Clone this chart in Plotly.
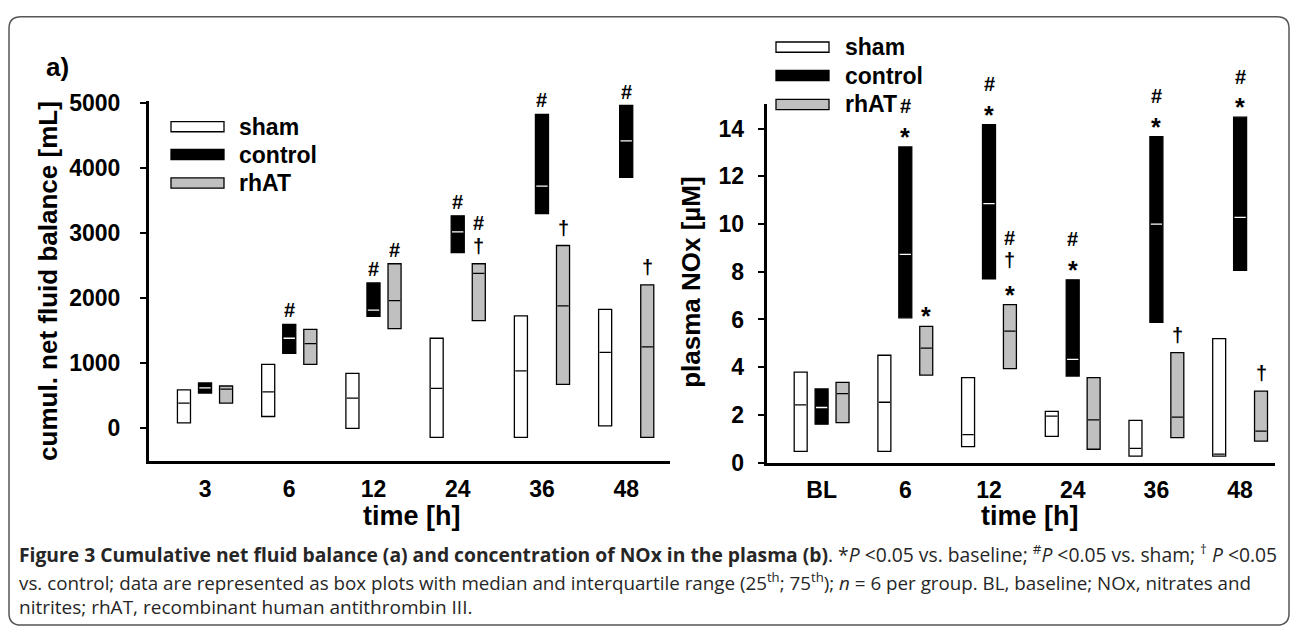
import plotly.graph_objects as go

W, H = 1293, 640

# ---------------- data ----------------
groups = ["sham", "control", "rhAT"]

# panel a: cumulative net fluid balance [mL]
cats_a = ["3", "6", "12", "24", "36", "48"]
sham_a_q1 = [84, 183, 0, -138, -138, 39]
sham_a_med = [390, 563, 467, 615, 885, 1170]
sham_a_q3 = [593, 983, 846, 1386, 1730, 1829]
ctrl_a_q1 = [543, 1155, 1721, 2704, 3304, 3859]
ctrl_a_med = [622, 1386, 1819, 3023, 3726, 4420]
ctrl_a_q3 = [700, 1598, 2237, 3269, 4827, 4965]
rhat_a_q1 = [390, 983, 1534, 1657, 678, -138]
rhat_a_med = [603, 1303, 1966, 2384, 1883, 1254]
rhat_a_q3 = [652, 1524, 2532, 2532, 2812, 2207]
ticks_a = [0, 1000, 2000, 3000, 4000, 5000]
# significance marks, listed top to bottom
sig_a_ctrl = ["", "#", "#", "#", "#", "#"]
sig_a_rhat = ["", "", "#", "#†", "†", "†"]

# panel b: plasma NOx [µM]
cats_b = ["BL", "6", "12", "24", "36", "48"]
sham_b_q1 = [0.47, 0.47, 0.67, 1.10, 0.27, 0.27]
sham_b_med = [2.42, 2.53, 1.17, 1.95, 0.60, 0.36]
sham_b_q3 = [3.79, 4.50, 3.56, 2.15, 1.77, 5.20]
ctrl_b_q1 = [1.61, 6.07, 7.70, 3.63, 5.88, 8.06]
ctrl_b_med = [2.31, 8.73, 10.86, 4.33, 10.00, 10.28]
ctrl_b_q3 = [3.09, 13.23, 14.17, 7.66, 13.66, 14.48]
rhat_b_q1 = [1.68, 3.67, 3.94, 0.56, 1.05, 0.90]
rhat_b_med = [2.89, 4.80, 5.51, 1.79, 1.91, 1.32]
rhat_b_q3 = [3.36, 5.71, 6.62, 3.56, 4.61, 3.00]
ticks_b = [0, 2, 4, 6, 8, 10, 12, 14]
sig_b_ctrl = ["", "#*", "#*", "#*", "#*", "#*"]
sig_b_rhat = ["", "*", "#†*", "", "†", "†"]

# ---------------- style ----------------
FILL = {"sham": "white", "control": "black", "rhAT": "#c0c0c0"}
MED = {"sham": "black", "control": "white", "rhAT": "black"}
OFF = {"sham": -0.25, "control": 0.0, "rhAT": 0.25}
BW = 0.155
FONT = "Liberation Sans, Arial, sans-serif"
CAPFONT = "Open Sans, Noto Sans, sans-serif"
SYM_SIZE = {"#": 20, "†": 20, "*": 25}
SYM_SHIFT = {"#": 0, "†": 4, "*": -4}


def px(x):
    return x / W


def py(y):
    return 1 - y / H


fig = go.Figure()

panels = [
    ("x", "y", cats_a,
     {"sham": (sham_a_q1, sham_a_med, sham_a_q3),
      "control": (ctrl_a_q1, ctrl_a_med, ctrl_a_q3),
      "rhAT": (rhat_a_q1, rhat_a_med, rhat_a_q3)},
     {"control": sig_a_ctrl, "rhAT": sig_a_rhat}),
    ("x2", "y2", cats_b,
     {"sham": (sham_b_q1, sham_b_med, sham_b_q3),
      "control": (ctrl_b_q1, ctrl_b_med, ctrl_b_q3),
      "rhAT": (rhat_b_q1, rhat_b_med, rhat_b_q3)},
     {"control": sig_b_ctrl, "rhAT": sig_b_rhat}),
]

annotations = []
for xa, ya, cats, data, sigs in panels:
    for g in groups:
        q1, med, q3 = data[g]
        xs = [i + OFF[g] for i in range(len(cats))]
        fig.add_trace(go.Bar(
            x=xs, y=[b - a for a, b in zip(q1, q3)], base=q1, width=BW,
            marker=dict(color=FILL[g], line=dict(color="black", width=1.3)),
            name=g, showlegend=False, xaxis=xa, yaxis=ya,
            hovertemplate=g + "<extra></extra>"))
        mx, my = [], []
        for x, m in zip(xs, med):
            mx += [x - BW / 2 + 0.01, x + BW / 2 - 0.01, None]
            my += [m, m, None]
        fig.add_trace(go.Scatter(
            x=mx, y=my, mode="lines", line=dict(color=MED[g], width=1.3),
            showlegend=False, hoverinfo="skip", xaxis=xa, yaxis=ya))
        if g in sigs:
            q3v = data[g][2]
            for i, s in enumerate(sigs[g]):
                for k, ch in enumerate(reversed(s)):
                    annotations.append(dict(
                        x=i + OFF[g], y=q3v[i], xref=xa, yref=ya,
                        text=ch, showarrow=False, xanchor="center",
                        yanchor="middle",
                        yshift=14 + 26.5 * k + SYM_SHIFT[ch],
                        font=dict(family=FONT, size=SYM_SIZE[ch],
                                  color="black", weight="bold")))

axis_common = dict(showgrid=False, zeroline=False, showline=True,
                   linecolor="black", linewidth=3,
                   tickfont=dict(family=FONT, size=23, color="black",
                                 weight="bold"))

fig.update_layout(
    width=W, height=H, margin=dict(l=0, r=0, t=0, b=0),
    paper_bgcolor="white", plot_bgcolor="white", barmode="overlay",
    xaxis=dict(domain=[px(149), px(670)], range=[-0.665, 5.52],
               tickvals=list(range(6)), ticktext=cats_a, ticks="",
               anchor="y", ticklabelstandoff=5, **axis_common),
    yaxis=dict(domain=[py(468), py(94)], range=[-504, 5040],
               tickvals=ticks_a, ticks="outside", ticklen=6, tickwidth=2,
               tickcolor="black", anchor="x", ticklabelstandoff=15,
               **axis_common),
    xaxis2=dict(domain=[px(766.7), px(1275)], range=[-0.656, 5.417],
                tickvals=list(range(6)), ticktext=cats_b, ticks="",
                anchor="y2", ticklabelstandoff=5, **axis_common),
    yaxis2=dict(domain=[py(469.5), py(97.3)], range=[0, 15.04],
                tickvals=ticks_b, ticks="outside", ticklen=6, tickwidth=2,
                tickcolor="black", anchor="x2", ticklabelstandoff=9,
                **axis_common),
)

bold = dict(family=FONT, color="black", weight="bold")
centered = dict(xref="paper", yref="paper", showarrow=False,
                xanchor="center", yanchor="middle")

# axis titles and panel label
annotations += [
    dict(x=px(48), y=py(281), textangle=-90,
         text="cumul. net fluid balance [mL]",
         font=dict(size=26, **bold), **centered),
    dict(x=px(691), y=py(283), textangle=-90, text="plasma NOx [µM]",
         font=dict(size=26, **bold), **centered),
    dict(x=px(412), y=py(525), text="time [h]",
         font=dict(size=27, **bold), **centered),
    dict(x=px(1030), y=py(525), text="time [h]",
         font=dict(size=27, **bold), **centered),
    dict(x=px(57), y=py(59), text="a)", font=dict(size=26, **bold),
         **centered),
]

# legends (drawn as swatches + text)
shapes = []
for (lx0, lx1, tx, ys) in [(171, 224, 237, [121, 150, 179.5]),
                           (776, 829, 843, [38.5, 68, 98])]:
    for g, yc in zip(groups, ys):
        shapes.append(dict(type="rect", xref="paper", yref="paper",
                           x0=px(lx0), x1=px(lx1), y0=py(yc - 5.3),
                           y1=py(yc + 5.3), fillcolor=FILL[g],
                           line=dict(color="black", width=1.3)))
        annotations.append(dict(x=px(tx), y=py(yc), xref="paper",
                                yref="paper", xanchor="left",
                                yanchor="middle", text=g, showarrow=False,
                                font=dict(size=23, **bold)))

# caption
cap1 = ("<b>Figure 3 Cumulative net fluid balance (a) and concentration of NOx "
        "in the plasma (b)</b>. *<i>P</i> &lt;0.05 vs. baseline; "
        "<sup>#</sup><i>P</i> &lt;0.05 vs. sham; <sup>†</sup> <i>P</i> &lt;0.05")
cap2 = ("vs. control; data are represented as box plots with median and "
        "interquartile range (25<sup>th</sup>; 75<sup>th</sup>); <i>n</i> = 6 "
        "per group. BL, baseline; NOx, nitrates and")
cap3 = "nitrites; rhAT, recombinant human antithrombin III."
for txt, yc, fs in [(cap1, 564, 19.3), (cap2, 593, 18.8), (cap3, 619, 19.0)]:
    annotations.append(dict(x=px(17), y=py(yc), xref="paper", yref="paper",
                            xanchor="left", yanchor="middle", text=txt,
                            showarrow=False,
                            font=dict(family=CAPFONT, size=fs,
                                      color="#262626")))

# rounded frame
x0, y0, x1, y1, r = 9, 7, 1289, 638, 12
path = (f"M {px(x0 + r)},{py(y0)} L {px(x1 - r)},{py(y0)} "
        f"Q {px(x1)},{py(y0)} {px(x1)},{py(y0 + r)} "
        f"L {px(x1)},{py(y1 - r)} Q {px(x1)},{py(y1)} {px(x1 - r)},{py(y1)} "
        f"L {px(x0 + r)},{py(y1)} Q {px(x0)},{py(y1)} {px(x0)},{py(y1 - r)} "
        f"L {px(x0)},{py(y0 + r)} Q {px(x0)},{py(y0)} {px(x0 + r)},{py(y0)} Z")
shapes.append(dict(type="path", xref="paper", yref="paper", path=path,
                   line=dict(color="#555555", width=1.5), layer="below"))

fig.update_layout(annotations=annotations, shapes=shapes)

post = """
document.body.style.margin = '0';
document.documentElement.style.overflow = 'hidden';
document.body.style.overflow = 'hidden';
"""
fig.write_html("out.html", config={"displayModeBar": False},
               post_script=post)
